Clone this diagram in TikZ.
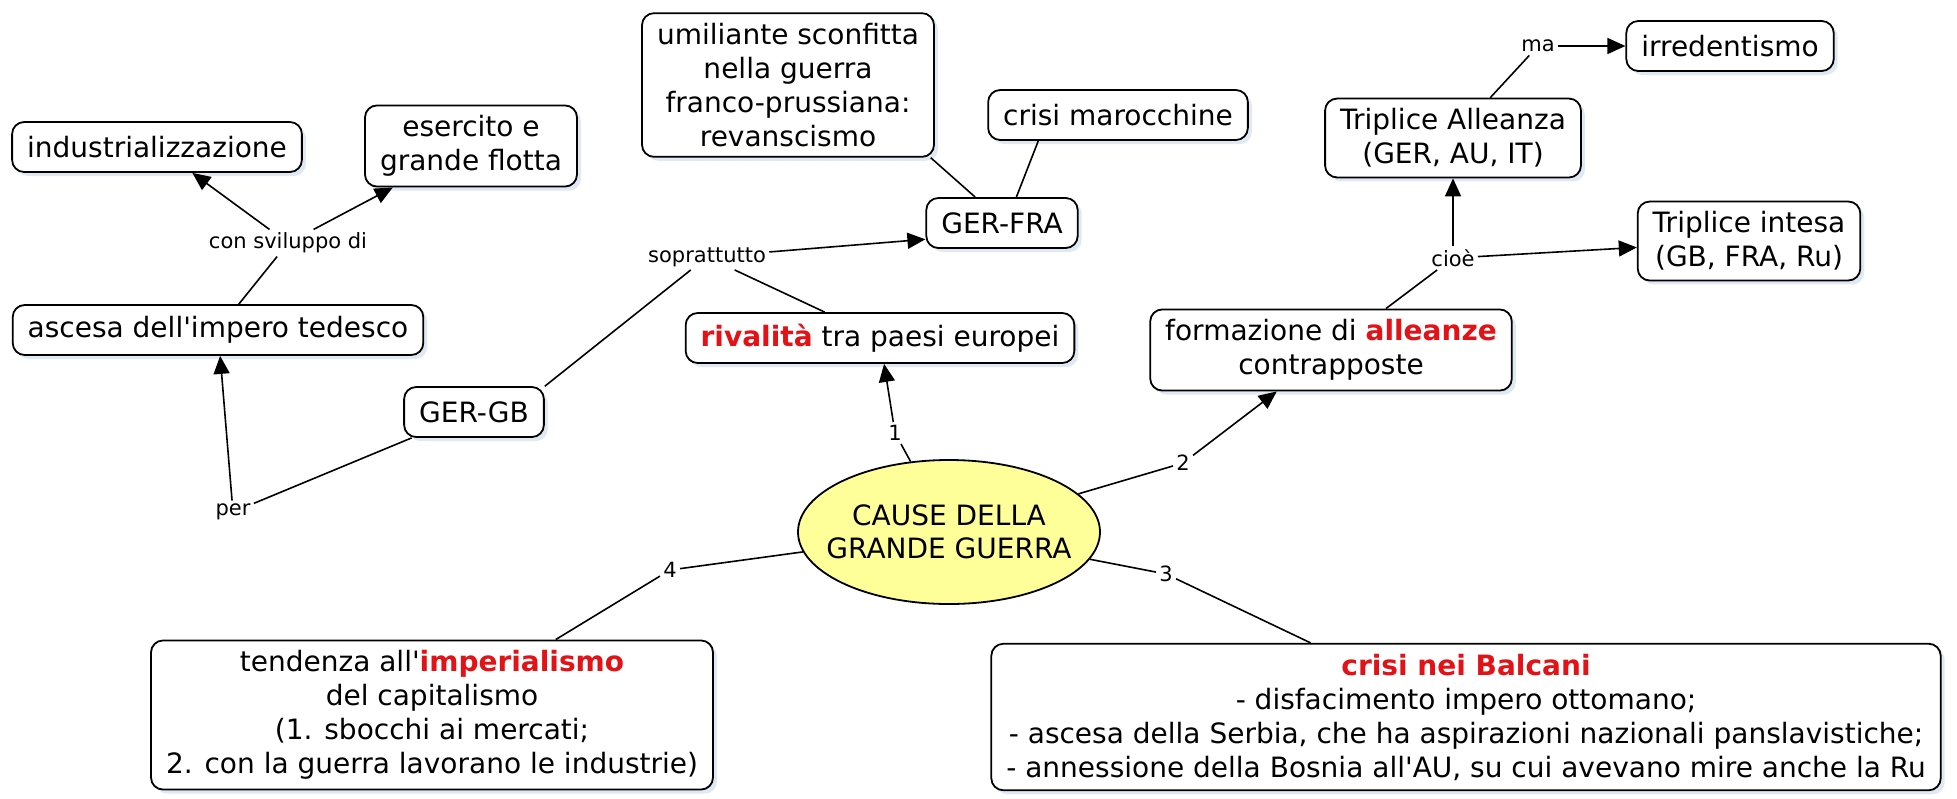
\documentclass[tikz,border=0pt]{standalone}
\usepackage{fontspec}
\setmainfont{DejaVu Sans}[Ligatures=TeXOff]
\usepackage{xcolor}
\usetikzlibrary{shapes.geometric, arrows.meta, positioning, shadows}

\definecolor{rosso}{RGB}{226,18,22}
\definecolor{giallo}{RGB}{255,255,153}
\definecolor{ombra}{RGB}{224,233,243}
\newcommand{\parola}[1]{\textcolor{rosso}{\textbf{#1}}}

\begin{document}
\begin{tikzpicture}[x=0.5pt, y=-0.5pt,
    concetto/.style={draw=black, line width=0.9pt, fill=white, rounded corners=6pt, align=center,
        font=\fontsize{14}{17}\selectfont, inner xsep=7.5pt, inner ysep=5pt, minimum height=25pt,
        drop shadow={shadow xshift=2pt, shadow yshift=-2pt, fill=ombra, opacity=1}},
    radice/.style={ellipse, draw=black, line width=0.9pt, fill=giallo, align=center,
        font=\fontsize{14}{16.5}\selectfont, minimum width=151pt, minimum height=72pt,
        inner xsep=-10pt, inner ysep=0pt},
    legame/.style={font=\fontsize{10.5}{12}\selectfont, inner sep=1.5pt},
    linea/.style={line width=0.8pt},
    freccia/.style={linea, -{Triangle[length=9pt, width=8pt]}}
]
\useasboundingbox (0,0) rectangle (1957,798);

% concetti
\node[concetto] (ind) at (157,147) {industrializzazione};
\node[concetto] (eserc) at (471,146) {esercito e\\grande flotta};
\node[legame] (svil) at (288,243) {con sviluppo di};
\node[concetto] (ascesa) at (218,330) {ascesa dell'impero tedesco};
\node[legame] (per) at (233,512) {per};
\node[concetto] (gergb) at (474,412) {GER-GB};
\node[legame] (sopra) at (707,257) {soprattutto};
\node[concetto] (gerfra) at (1002,223) {GER-FRA};
\node[concetto] (umil) at (788,85) {umiliante sconfitta\\nella guerra\\franco-prussiana:\\revanscismo};
\node[concetto] (maroc) at (1118,115) {crisi marocchine};
\node[concetto] (rival) at (880,338) {\parola{rivalità} tra paesi europei};
\node[radice] (cause) at (949,532) {CAUSE DELLA\\GRANDE GUERRA};
\node[legame] (n1) at (895,433) {1};
\node[concetto] (form) at (1331,350) {formazione di \parola{alleanze}\\contrapposte};
\node[legame] (n2) at (1183,463) {2};
\node[legame] (cioe) at (1453,258) {cioè};
\node[concetto] (allea) at (1453,138) {Triplice Alleanza\\(GER, AU, IT)};
\node[legame] (ma) at (1538,46) {ma};
\node[concetto] (irred) at (1730,46) {irredentismo};
\node[concetto] (intesa) at (1749,241) {Triplice intesa\\(GB, FRA, Ru)};
\node[legame] (n3) at (1166,574) {3};
\node[legame] (n4) at (670,570) {4};
\node[concetto] (tend) at (432,715) {tendenza all'\parola{imperialismo}\\del capitalismo\\(1. sbocchi ai mercati;\\2. con la guerra lavorano le industrie)};
\node[concetto] (balc) at (1466,717) {\parola{crisi nei Balcani}\\- disfacimento impero ottomano;\\- ascesa della Serbia, che ha aspirazioni nazionali panslavistiche;\\- annessione della Bosnia all'AU, su cui avevano mire anche la Ru};

% legami
\draw[linea] (ascesa) -- (svil);
\draw[freccia] (svil) -- (ind);
\draw[freccia] (svil) -- (eserc);
\draw[linea] (gergb) -- (per);
\draw[freccia] (per) -- (ascesa);
\draw[linea] (gergb.20) -- (sopra);
\draw[linea] (rival) -- (sopra);
\draw[freccia] (sopra) -- (gerfra.192);
\draw[linea] (umil.-27) -- (gerfra.136);
\draw[linea] (maroc.198) -- (gerfra.61);
\draw[linea] (cause) -- (n1);
\draw[freccia] (n1) -- (rival);
\draw[linea] (cause) -- (n2);
\draw[freccia] (n2) -- (form);
\draw[linea] (cause) -- (n3);
\draw[linea] (n3) -- (balc);
\draw[linea] (cause) -- (n4);
\draw[linea] (n4) -- (tend);
\draw[linea] (form) -- (cioe);
\draw[freccia] (cioe) -- (allea);
\draw[freccia] (cioe) -- (intesa);
\draw[linea] (allea) -- (ma);
\draw[freccia] (ma) -- (irred);
\end{tikzpicture}
\end{document}
